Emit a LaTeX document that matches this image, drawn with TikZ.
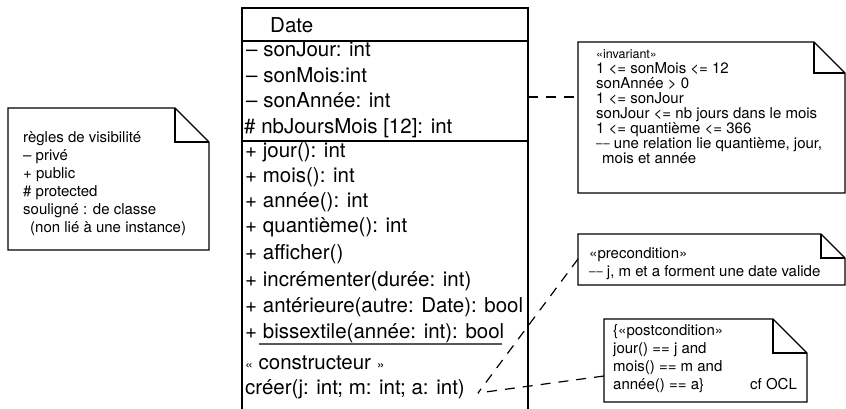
\documentclass[tikz,border=0pt]{standalone}
\usepackage{fontspec}
\setmainfont{TeX Gyre Heros}
\newcommand\dognote[2]{%
  \draw[noteline] (#1.north west) -- ([xshift=-#2pt]#1.north east) -- ([yshift=-#2pt]#1.north east) -- (#1.south east) -- (#1.south west) -- cycle;
  \draw[noteline] ([xshift=-#2pt]#1.north east) -- ([xshift=-#2pt,yshift=-#2pt]#1.north east) -- ([yshift=-#2pt]#1.north east);}
\newcommand\dd{\raisebox{0.8pt}{\fontsize{11.5}{12}\selectfont–\kern0.8pt–}}
\begin{document}
\begin{tikzpicture}[x=1pt,y=-1pt,
  cls/.style={font=\fontsize{20.5}{24}\selectfont, anchor=base west, inner sep=0pt},
  nt/.style={font=\fontsize{15}{18}\selectfont, anchor=base west, inner sep=0pt},
  notebg/.style={inner sep=0pt, outer sep=0pt, draw=none},
  boxline/.style={line width=1.8pt},
  noteline/.style={line width=1.3pt, line join=miter},
  link/.style={line width=1.2pt, dash pattern=on 10pt off 8pt}]
\useasboundingbox (0,0) rectangle (846,409);

% class box
\coordinate (cTL) at (242,8);
\coordinate (cTR) at (528,8);
\coordinate (cBL) at (242,409);
\coordinate (cBR) at (528,409);
\draw[boxline] (cBL) -- (cTL) -- (cTR) -- (cBR);
\draw[boxline] (242,41) -- (528,41);
\draw[boxline] (242,141) -- (528,141);

\node[cls] (title) at (270,33) {Date};
\node[cls] (a1) at (246,57) {– sonJour: int};
\node[cls] (a2) at (246,82.5) {– sonMois:int};
\node[cls] (a3) at (246,108) {– sonAnnée: int};
\node[cls] (a4) at (244,134) {\# nbJoursMois [12]: int};
\node[cls] (o1) at (245,157.5) {+ jour(): int};
\node[cls] (o2) at (245,182.5) {+ mois(): int};
\node[cls] (o3) at (245,207.5) {+ année(): int};
\node[cls] (o4) at (245,232.5) {+ quantième(): int};
\node[cls] (o5) at (245,259) {+ afficher()};
\node[cls] (o6) at (245,286) {+ incrémenter(durée: int)};
\node[cls] (o7) at (245,312) {+ antérieure(autre: Date): bool};
\node[cls] (o8) at (245,338) {+ bissextile(année: int): bool};
\draw[line width=1.2pt, black!65] (259,344) -- (502,344);
\node[cls] (o9) at (245,369) {{\fontsize{14}{14}\selectfont«} constructeur {\fontsize{14}{14}\selectfont»}};
\node[cls] (o10) at (245,394) {créer(j: int; m: int; a: int)};

% left note
\node[notebg, minimum width=201pt, minimum height=142pt] (vis) at (108.5,179) {};
\dognote{vis}{34}
\node[nt] (v1) at (23,142.5) {règles de visibilité};
\node[nt] (v2) at (23,160.5) {– privé};
\node[nt] (v3) at (23,178.5) {+ public};
\node[nt] (v4) at (23,196.5) {\# protected};
\node[nt] (v5) at (23,214.5) {souligné : de classe};
\node[nt] (v6) at (30,232.5) {(non lié à une instance)};

% invariant note
\node[notebg, minimum width=267pt, minimum height=151pt] (inv) at (711.5,117.5) {};
\dognote{inv}{31}
\node[nt, font=\fontsize{12.5}{14}\selectfont] (i1) at (596,58.3) {«invariant»};
\node[nt] (i2) at (596,73.3) {1 <= sonMois <= 12};
\node[nt] (i3) at (596,88.3) {sonAnnée > 0};
\node[nt] (i4) at (596,103.3) {1 <= sonJour};
\node[nt] (i5) at (596,118.3) {sonJour <= nb jours dans le mois};
\node[nt] (i6) at (596,133.3) {1 <= quantième <= 366};
\node[nt] (i7) at (596,148.3) {\dd{} une relation lie quantième, jour,};
\node[nt] (i8) at (602,163.3) {mois et année};

% precondition note
\node[notebg, minimum width=267pt, minimum height=51pt] (pre) at (711.5,259.5) {};
\dognote{pre}{24}
\node[nt] (p1) at (589,258.3) {«precondition»};
\node[nt] (p2) at (589,276) {\dd{} j, m et a forment une date valide};

% postcondition note
\node[notebg, minimum width=203pt, minimum height=83pt] (post) at (705.5,360.5) {};
\dognote{post}{34}
\node[nt] (q1) at (613,335) {\{«postcondition»};
\node[nt] (q2) at (613,353.3) {jour() == j and};
\node[nt] (q3) at (613,371.7) {mois() == m and};
\node[nt] (q4) at (613,389.3) {année() == a\}};
\node[nt] (q5) at (750,389.3) {cf OCL};

% connectors
\coordinate (invL) at (578,97);
\coordinate (preL) at (578,259);
\coordinate (postL) at (604,376);
\coordinate (meet) at (478,393);
\draw[link] (invL -| cTR) -- (invL);
\draw[link] (preL) -- (meet);
\draw[link] (postL) -- (meet);
\end{tikzpicture}
\end{document}
